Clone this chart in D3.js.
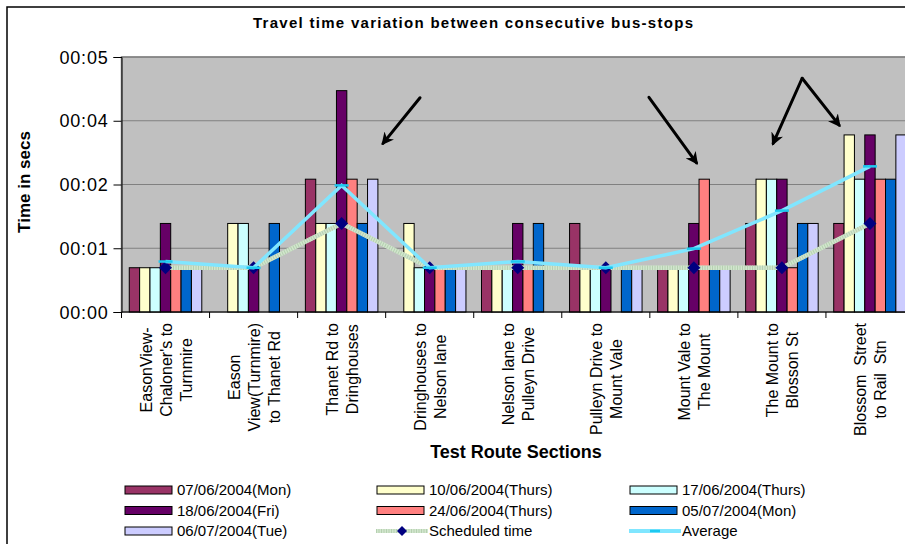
<!DOCTYPE html>
<html>
<head>
<meta charset="utf-8">
<script src="https://cdn.jsdelivr.net/npm/d3@7"></script>
<style>
  html, body { margin: 0; padding: 0; background: #fff; }
  svg { display: block; font-family: Arial, "Liberation Sans", Helvetica, sans-serif; }
</style>
</head>
<body>
<svg id="chart" width="905" height="544"></svg>
<script>
// Route sections (each entry holds the wrapped lines of the axis label)
const sections = [
  ["EasonView-", "Chaloner's to", "Turnmire"],
  ["Eason", "View(Turnmire)", "to Thanet Rd"],
  ["Thanet Rd to", "Dringhouses"],
  ["Dringhouses to", "Nelson lane"],
  ["Nelson lane to", "Pulleyn Drive"],
  ["Pulleyn Drive to", "Mount Vale"],
  ["Mount Vale to", "The Mount"],
  ["The Mount to", "Blosson St"],
  ["Blossom  Street", "to Rail  Stn"]
];

// Survey days (bar series)
const days = [
  "07/06/2004(Mon)", "10/06/2004(Thurs)", "17/06/2004(Thurs)",
  "18/06/2004(Fri)", "24/06/2004(Thurs)", "05/07/2004(Mon)", "06/07/2004(Tue)"
];
const dayColors = ["#993366", "#FFFFCC", "#CCFFFF", "#660066", "#FF8080", "#0066CC", "#CCCCFF"];

// Travel time per section, seconds
const run0706 = [1, 0, 3, 0, 1, 2, 1, 2, 2];
const run1006 = [1, 2, 2, 2, 1, 1, 1, 3, 4];
const run1706 = [1, 2, 2, 1, 1, 1, 1, 3, 3];
const run1806 = [2, 1, 5, 1, 2, 1, 2, 3, 4];
const run2406 = [1, 0, 3, 1, 1, 0, 3, 1, 3];
const run0507 = [1, 2, 2, 1, 2, 1, 1, 2, 3];
const run0607 = [1, 0, 3, 1, 0, 1, 1, 2, 4];
const runs = [run0706, run1006, run1706, run1806, run2406, run0507, run0607];

// Line series, seconds
const scheduled = [1, 1, 2, 1, 1, 1, 1, 1, 2];
const average = [1.14, 1.00, 2.86, 1.00, 1.14, 1.00, 1.43, 2.29, 3.29];

// Value axis
const yTickValues = [0, 1.44, 2.88, 4.32, 5.76];
const yTickLabels = ["00:00", "00:01", "00:02", "00:04", "00:05"];

// Callout arrows: [from, to] as (section position, seconds)
const arrows = [
  [[3.39, 4.84], [2.97, 3.81]],
  [[5.99, 4.85], [6.53, 3.37]],
  [[7.73, 5.28], [7.40, 3.81]],
  [[7.73, 5.28], [8.15, 4.22]]
];

const svg = d3.select("#chart");
const plot = { left: 121.5, right: 914, top: 57, bottom: 312 };

// Outer chart frame
svg.append("rect")
  .attr("x", 7).attr("y", 7).attr("width", 920).attr("height", 560)
  .attr("fill", "#fff").attr("stroke", "#000").attr("stroke-width", 1.5);

const x0 = d3.scaleBand().domain(d3.range(sections.length)).range([plot.left, plot.right]).padding(0);
const cw = x0.bandwidth();
const bw = cw / (days.length + 1.5);
const x1 = d3.scaleBand().domain(d3.range(days.length)).range([0.75 * bw, cw - 0.75 * bw]).padding(0);
const y = d3.scaleLinear().domain([0, 5.76]).range([plot.bottom, plot.top]);
const xPos = d3.scaleLinear().domain([0, sections.length]).range([plot.left, plot.right]);

// Plot area
svg.append("rect")
  .attr("x", plot.left).attr("y", plot.top)
  .attr("width", plot.right - plot.left).attr("height", plot.bottom - plot.top)
  .attr("fill", "#C0C0C0").attr("stroke", "#808080").attr("stroke-width", 1.5);

// Gridlines
svg.append("g").selectAll("line").data(yTickValues.slice(1)).join("line")
  .attr("x1", plot.left).attr("x2", plot.right)
  .attr("y1", d => y(d)).attr("y2", d => y(d))
  .attr("stroke", "#808080").attr("stroke-width", 1);

// Bars
const groups = svg.append("g").selectAll("g").data(sections).join("g")
  .attr("transform", (d, i) => `translate(${x0(i)},0)`);
groups.selectAll("rect")
  .data((d, i) => runs.map((r, k) => ({ k, v: r[i] })).filter(e => e.v > 0))
  .join("rect")
  .attr("x", e => x1(e.k))
  .attr("y", e => y(e.v))
  .attr("width", x1.bandwidth())
  .attr("height", e => y(0) - y(e.v))
  .attr("fill", e => dayColors[e.k])
  .attr("stroke", "#000").attr("stroke-width", 1);

// Axes
const yAxis = svg.append("g").attr("transform", `translate(${plot.left},0)`)
  .call(d3.axisLeft(y).tickValues(yTickValues).tickSize(8)
    .tickFormat((d, i) => yTickLabels[i]));
yAxis.select(".domain").attr("stroke", "#000");
yAxis.selectAll(".tick line").attr("stroke", "#000");
yAxis.selectAll(".tick text")
  .attr("font-size", 18).attr("fill", "#000")
  .attr("font-family", "Arial, 'Liberation Sans', sans-serif")
  .attr("x", -13).attr("dy", "0.34em").attr("letter-spacing", 0.8);

svg.append("line")
  .attr("x1", plot.left).attr("x2", plot.right)
  .attr("y1", plot.bottom).attr("y2", plot.bottom)
  .attr("stroke", "#000").attr("stroke-width", 1);
svg.append("g").selectAll("line").data(d3.range(sections.length + 1)).join("line")
  .attr("x1", d => xPos(d)).attr("x2", d => xPos(d))
  .attr("y1", plot.bottom).attr("y2", plot.bottom + 6)
  .attr("stroke", "#000");

// Category labels, rotated, each line centred in its block
const labelTop = 323;
const catLabels = svg.append("g");
sections.forEach((lines, i) => {
  const cx = x0(i) + cw / 2;
  const g = catLabels.append("g");
  const texts = lines.map((ln, j) => g.append("text")
    .attr("font-size", 16).attr("fill", "#000")
    .attr("text-anchor", "middle")
    .style("white-space", "pre")
    .text(ln));
  const maxLen = d3.max(texts, t => t.node().getComputedTextLength());
  const n = lines.length;
  texts.forEach((t, j) => {
    const lx = cx + (j - (n - 1) / 2) * 20 + 6;
    const ly = labelTop + maxLen / 2;
    t.attr("transform", `translate(${lx},${ly}) rotate(-90)`);
  });
});

// Scheduled time line
const lineGen = d3.line().x((d, i) => x0(i) + cw / 2).y(d => y(d));
svg.append("path").datum(scheduled).attr("d", lineGen)
  .attr("fill", "none").attr("stroke", "#D2E6CE").attr("stroke-width", 4.5);
svg.append("path").datum(scheduled).attr("d", lineGen)
  .attr("fill", "none").attr("stroke", "#B5D0B0").attr("stroke-width", 4.5)
  .attr("stroke-dasharray", "1,1.5");
function drawDiamond(g, cx, cy, r) {
  g.append("path")
    .attr("d", `M${cx},${cy - r}L${cx + r},${cy}L${cx},${cy + r}L${cx - r},${cy}Z`)
    .attr("fill", "#000080");
}
const sg = svg.append("g");
scheduled.forEach((v, i) => drawDiamond(sg, x0(i) + cw / 2, y(v), 6.5));

// Average line
svg.append("path").datum(average).attr("d", lineGen)
  .attr("fill", "none").attr("stroke", "#80E6FF").attr("stroke-width", 3.5);
svg.append("g").selectAll("line").data(average).join("line")
  .attr("x1", (d, i) => x0(i) + cw / 2 - 7).attr("x2", (d, i) => x0(i) + cw / 2 + 7)
  .attr("y1", d => y(d)).attr("y2", d => y(d))
  .attr("stroke", "#1EC8F0").attr("stroke-width", 2.5);

// Callout arrows
svg.append("defs").append("marker")
  .attr("id", "head").attr("viewBox", "0 0 10 10")
  .attr("refX", 8).attr("refY", 5)
  .attr("markerWidth", 4.2).attr("markerHeight", 4.2)
  .attr("markerUnits", "strokeWidth")
  .attr("orient", "auto")
  .append("path").attr("d", "M0,0L10,5L0,10L3,5Z").attr("fill", "#000");
svg.append("g").selectAll("line").data(arrows).join("line")
  .attr("x1", d => xPos(d[0][0])).attr("y1", d => y(d[0][1]))
  .attr("x2", d => xPos(d[1][0])).attr("y2", d => y(d[1][1]))
  .attr("stroke", "#000").attr("stroke-width", 3)
  .attr("stroke-linecap", "round")
  .attr("marker-end", "url(#head)");

// Titles
svg.append("text")
  .attr("x", 473).attr("y", 28).attr("text-anchor", "middle")
  .attr("font-size", 15).attr("font-weight", "bold")
  .attr("textLength", 440).attr("lengthAdjust", "spacing")
  .text("Travel time variation between consecutive bus-stops");
svg.append("text")
  .attr("transform", "translate(30,182) rotate(-90)")
  .attr("text-anchor", "middle")
  .attr("font-size", 17).attr("font-weight", "bold")
  .text("Time in secs");
svg.append("text")
  .attr("x", 516).attr("y", 458).attr("text-anchor", "middle")
  .attr("font-size", 18).attr("font-weight", "bold")
  .text("Test Route Sections");

// Legend
const legendCols = [125, 377, 630];
const legendRows = [490, 510.5, 531];
const legendItems = days.map((d, k) => ({ label: d, type: "bar", k }))
  .concat([{ label: "Scheduled time", type: "sched" }, { label: "Average", type: "avg" }]);
const lg = svg.append("g");
legendItems.forEach((item, idx) => {
  const lx = legendCols[idx % 3];
  const ly = legendRows[Math.floor(idx / 3)];
  if (item.type === "bar") {
    lg.append("rect").attr("x", lx).attr("y", ly - 4).attr("width", 47).attr("height", 8)
      .attr("fill", dayColors[item.k]).attr("stroke", "#000").attr("stroke-width", 1);
  } else if (item.type === "sched") {
    lg.append("line").attr("x1", lx - 1).attr("x2", lx + 51).attr("y1", ly).attr("y2", ly)
      .attr("stroke", "#D2E6CE").attr("stroke-width", 4);
    lg.append("line").attr("x1", lx - 1).attr("x2", lx + 51).attr("y1", ly).attr("y2", ly)
      .attr("stroke", "#B5D0B0").attr("stroke-width", 4).attr("stroke-dasharray", "1,1.5");
    drawDiamond(lg, lx + 25, ly, 5);
  } else {
    lg.append("line").attr("x1", lx - 1).attr("x2", lx + 51).attr("y1", ly).attr("y2", ly)
      .attr("stroke", "#80E6FF").attr("stroke-width", 4);
    lg.append("line").attr("x1", lx + 20).attr("x2", lx + 30).attr("y1", ly).attr("y2", ly)
      .attr("stroke", "#1EC8F0").attr("stroke-width", 2.5);
  }
  lg.append("text").attr("x", lx + 52).attr("y", ly).attr("dy", "0.36em")
    .attr("font-size", 15).text(item.label);
});
</script>
</body>
</html>
